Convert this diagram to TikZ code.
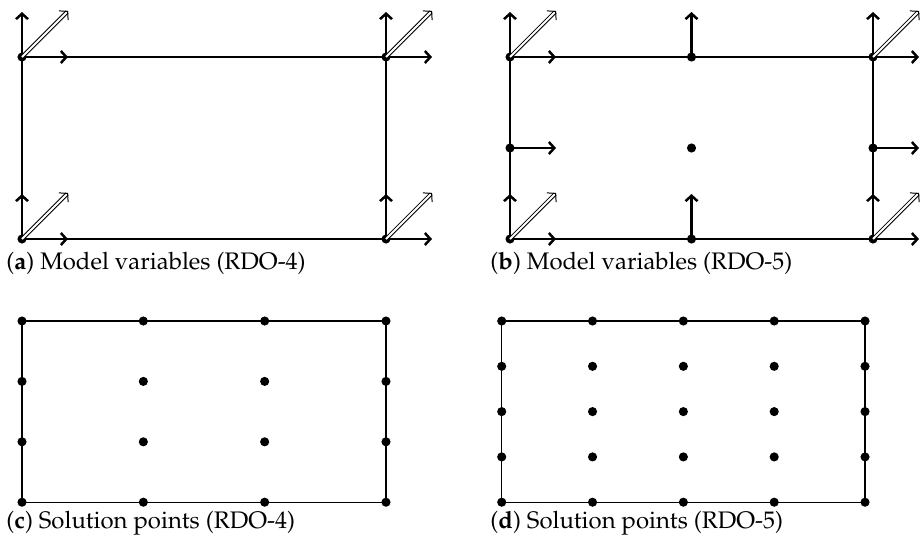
\documentclass[tikz,border=0pt]{standalone}
\usepackage[T1]{fontenc}
\usepackage{mathpazo}
\usetikzlibrary{arrows.meta}

\begin{document}
\begin{tikzpicture}[
      x=0.46pt, y=-0.46pt,
      dot/.style={circle, fill=black, inner sep=0pt, minimum size=4.2pt},
      frame/.style={line width=0.5pt},
      vec/.style={line width=1.15pt, -{Straight Barb[length=2.5pt, width=5.5pt]}},
      dvec/.style={double, double distance=0.9pt, line width=0.45pt,
                   -{Straight Barb[length=2.6pt, width=6pt]}},
      subcap/.style={anchor=base west, inner sep=0pt, font=\fontsize{11}{13}\selectfont}
    ]
    \useasboundingbox (0,0) rectangle (921,551);

    % --- (a) model variables, RDO-4 ---
    \node[dot] (a1) at (22,57) {};
    \node[dot] (a2) at (386,57) {};
    \node[dot] (a3) at (22,239) {};
    \node[dot] (a4) at (386,239) {};
    \draw[frame] (a1.center) -- (a2.center) -- (a4.center) -- (a3.center) -- cycle;

    % --- (b) model variables, RDO-5 ---
    \node[dot] (b1) at (510,57) {};
    \node[dot] (b2) at (873,57) {};
    \node[dot] (b3) at (510,239) {};
    \node[dot] (b4) at (873,239) {};
    \node[dot] (bt) at (691.5,57) {};
    \node[dot] (bb) at (691.5,239) {};
    \node[dot] (bl) at (510,148) {};
    \node[dot] (br) at (873,148) {};
    \node[dot] (bc) at (691.5,148) {};
    \draw[frame] (b1.center) -- (b2.center) -- (b4.center) -- (b3.center) -- cycle;

    % corner vertices carry all three vectors
    \foreach \p in {a1,a2,a3,a4,b1,b2,b3,b4} {
      \draw[vec] (\p.center) -- ++(0,-45);
      \draw[vec] (\p.center) -- ++(46,0);
      \draw[dvec] (\p.center) -- ++(46,-46);
    }
    \draw[vec] (bt.center) -- ++(0,-45);
    \draw[vec] (bb.center) -- ++(0,-45);
    \draw[vec] (bl.center) -- ++(46,0);
    \draw[vec] (br.center) -- ++(46,0);

    % --- (c) solution points, RDO-4 ---
    \foreach \i in {0,...,3}
      \foreach \j in {0,...,3}
        \node[dot] (c\i\j) at ({22+121.33*\i},{321+60.4*\j}) {};
    \draw[frame] (c00.center) rectangle (c33.center);

    % --- (d) solution points, RDO-5 ---
    \foreach \i in {0,...,4}
      \foreach \j in {0,...,4}
        \node[dot] (d\i\j) at ({501.7+90.83*\i},{321+45.3*\j}) {};
    \draw[frame] (d00.center) rectangle (d44.center);

    % --- captions ---
    \node[subcap] (capa) at (6,269) {(\textbf{a}) Model variables (RDO-4)};
    \node[subcap] (capb) at (490,269) {(\textbf{b}) Model variables (RDO-5)};
    \node[subcap] (capc) at (6,528) {(\textbf{c}) Solution points (RDO-4)};
    \node[subcap] (capd) at (490,528) {(\textbf{d}) Solution points (RDO-5)};
  \end{tikzpicture}
\end{document}
